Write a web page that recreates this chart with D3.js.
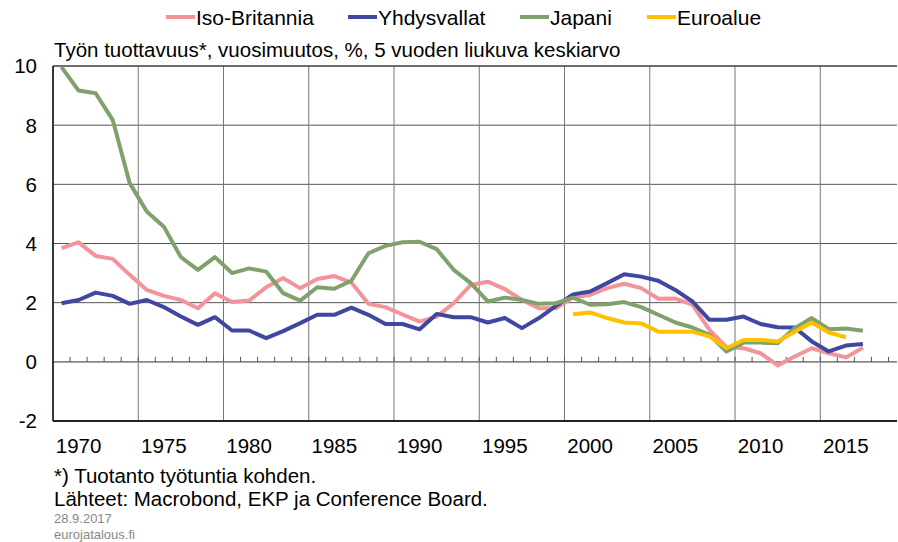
<!DOCTYPE html>
<html>
<head>
<meta charset="utf-8">
<script src="https://cdn.jsdelivr.net/npm/d3@7"></script>
<style>
  body { margin: 0; background: #fff; }
  svg text { font-family: "Liberation Sans", Arial, sans-serif; fill: #000; }
</style>
</head>
<body>
<div id="chart"></div>
<script>
// years 1969..2016, euro area from 1999
const years = d3.range(1969, 2017);

const isoBritannia = [3.84, 4.04, 3.58, 3.48, 2.94, 2.43, 2.23, 2.09, 1.81, 2.32,
  2.02, 2.07, 2.52, 2.83, 2.49, 2.80, 2.90, 2.68, 1.96, 1.85,
  1.60, 1.36, 1.53, 1.98, 2.60, 2.71, 2.46, 2.09, 1.81, 1.81,
  2.18, 2.26, 2.49, 2.64, 2.49, 2.13, 2.14, 1.93, 1.08, 0.50,
  0.46, 0.29, -0.12, 0.18, 0.46, 0.29, 0.15, 0.48];

const yhdysvallat = [1.98, 2.09, 2.34, 2.23, 1.96, 2.09, 1.85, 1.53, 1.25, 1.51,
  1.06, 1.06, 0.80, 1.04, 1.31, 1.59, 1.59, 1.83, 1.59, 1.28,
  1.28, 1.10, 1.62, 1.51, 1.51, 1.33, 1.48, 1.14, 1.48, 1.89,
  2.28, 2.38, 2.66, 2.96, 2.88, 2.74, 2.43, 2.04, 1.42, 1.42,
  1.53, 1.28, 1.17, 1.16, 0.69, 0.35, 0.55, 0.60];

const japani = [9.96, 9.17, 9.08, 8.18, 6.04, 5.08, 4.57, 3.54, 3.11, 3.54,
  3.00, 3.16, 3.05, 2.32, 2.07, 2.52, 2.47, 2.74, 3.67, 3.92,
  4.04, 4.06, 3.81, 3.11, 2.66, 2.04, 2.17, 2.09, 1.96, 1.98,
  2.17, 1.93, 1.95, 2.02, 1.85, 1.59, 1.33, 1.16, 0.91, 0.35,
  0.65, 0.65, 0.63, 1.14, 1.48, 1.10, 1.13, 1.05];

const euroYears = d3.range(1999, 2016);
const euroalue = [1.61, 1.67, 1.48, 1.33, 1.30, 1.02, 1.02, 1.02, 0.86, 0.46,
  0.74, 0.74, 0.69, 1.02, 1.33, 0.99, 0.83];

const yTicks = [-2, 0, 2, 4, 6, 8, 10];
const yearLabels = d3.range(1970, 2016, 5);

const series = [
  {name: "Iso-Britannia", color: "#f3949b", years: years, values: isoBritannia},
  {name: "Yhdysvallat", color: "#3f47a0", years: years, values: yhdysvallat},
  {name: "Japani", color: "#80a06c", years: years, values: japani},
  {name: "Euroalue", color: "#fdc100", years: euroYears, values: euroalue}
];

const W = 898, H = 542;
const margin = {top: 66, right: 1, bottom: 121, left: 53};
const width = W - margin.left - margin.right;
const height = H - margin.top - margin.bottom;

const svg = d3.select("#chart").append("svg")
  .attr("width", W)
  .attr("height", H);

const g = svg.append("g")
  .attr("transform", "translate(" + margin.left + "," + margin.top + ")");

const x = d3.scaleLinear().domain([1968.5, 2018]).range([0, width]);
const y = d3.scaleLinear().domain([-2, 10]).range([height, 0]);

// horizontal grid
g.selectAll(".hgrid")
  .data(yTicks.filter(d => d > -2 && d !== 0))
  .enter().append("line")
  .attr("class", "hgrid")
  .attr("x1", 0).attr("x2", width)
  .attr("y1", d => y(d)).attr("y2", d => y(d))
  .attr("stroke", "#555").attr("stroke-width", 1);

// vertical grid (between years)
const vgrid = d3.range(1973.5, 2018, 5);
g.selectAll(".vgrid")
  .data(vgrid)
  .enter().append("line")
  .attr("class", "vgrid")
  .attr("x1", d => x(d)).attr("x2", d => x(d))
  .attr("y1", 0).attr("y2", height)
  .attr("stroke", "#777").attr("stroke-width", 1);

// zero line
g.append("line")
  .attr("x1", 0).attr("x2", width)
  .attr("y1", y(0)).attr("y2", y(0))
  .attr("stroke", "#888").attr("stroke-width", 1.6);

// minor ticks on zero line, one per year
g.selectAll(".mtick")
  .data(d3.range(1969.5, 2018, 1))
  .enter().append("line")
  .attr("class", "mtick")
  .attr("x1", d => x(d)).attr("x2", d => x(d))
  .attr("y1", y(0)).attr("y2", y(0) - 5)
  .attr("stroke", "#555").attr("stroke-width", 1);

// frame lines
g.append("line").attr("x1", 0).attr("x2", width).attr("y1", 0).attr("y2", 0)
  .attr("stroke", "#333").attr("stroke-width", 1.2);
g.append("line").attr("x1", 0).attr("x2", width).attr("y1", height).attr("y2", height)
  .attr("stroke", "#222").attr("stroke-width", 1.8);
g.append("line").attr("x1", 0).attr("x2", 0).attr("y1", 0).attr("y2", height)
  .attr("stroke", "#222").attr("stroke-width", 1.8);

// y labels
g.selectAll(".ylab")
  .data(yTicks)
  .enter().append("text")
  .attr("class", "ylab")
  .attr("x", -16)
  .attr("y", d => y(d))
  .attr("dy", "0.36em")
  .attr("text-anchor", "end")
  .style("font-size", "20.5px")
  .text(d => d);

// year labels
g.selectAll(".xlab")
  .data(yearLabels)
  .enter().append("text")
  .attr("class", "xlab")
  .attr("x", d => x(d))
  .attr("y", height + 32)
  .attr("text-anchor", "middle")
  .style("font-size", "20.5px")
  .text(d => d);

// lines
const line = d3.line()
  .x(d => x(d[0]))
  .y(d => y(d[1]));

series.forEach(s => {
  g.append("path")
    .datum(s.years.map((yr, i) => [yr, s.values[i]]))
    .attr("fill", "none")
    .attr("stroke", s.color)
    .attr("stroke-width", 4)
    .attr("stroke-linejoin", "round")
    .attr("d", line);
});

// title
svg.append("text")
  .attr("x", 54).attr("y", 57)
  .style("font-size", "20.5px")
  .text("Työn tuottavuus*, vuosimuutos, %, 5 vuoden liukuva keskiarvo");

// legend
const legendX = [166, 348, 520, 647];
const legend = svg.selectAll(".legend")
  .data(series)
  .enter().append("g")
  .attr("class", "legend")
  .attr("transform", (d, i) => "translate(" + legendX[i] + ",17)");

legend.append("line")
  .attr("x1", 0).attr("x2", 29)
  .attr("stroke", d => d.color)
  .attr("stroke-width", 4);

legend.append("text")
  .attr("x", 30).attr("dy", "0.36em")
  .style("font-size", "21px")
  .text(d => d.name);

// footer
svg.append("text").attr("x", 54).attr("y", 483)
  .style("font-size", "20.5px")
  .text("*) Tuotanto työtuntia kohden.");
svg.append("text").attr("x", 54).attr("y", 506)
  .style("font-size", "20.5px")
  .text("Lähteet: Macrobond, EKP ja Conference Board.");
svg.append("text").attr("x", 54).attr("y", 523)
  .style("font-size", "13px").style("fill", "#888")
  .text("28.9.2017");
svg.append("text").attr("x", 54).attr("y", 539)
  .style("font-size", "13px").style("fill", "#888")
  .text("eurojatalous.fi");
</script>
</body>
</html>
